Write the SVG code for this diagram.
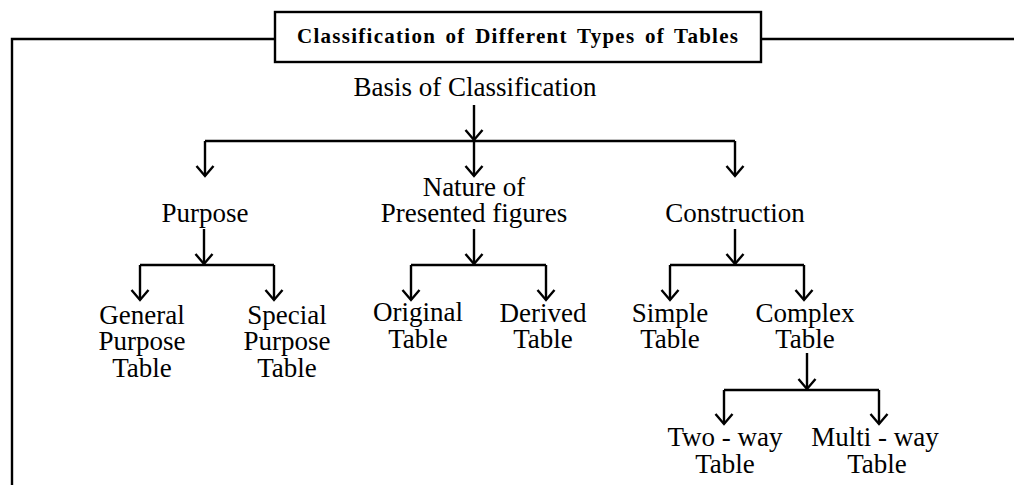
<svg xmlns="http://www.w3.org/2000/svg" width="1014" height="485" viewBox="0 0 1014 485">
<style>
.ln{fill:none;stroke:#000;stroke-width:2.4}
.arr{fill:none;stroke:#000;stroke-width:2.4;marker-end:url(#ah)}
.t{font-family:"Liberation Serif",serif;font-size:27px;fill:#000;text-anchor:middle}
.title{font-family:"Liberation Serif",serif;font-size:21px;font-weight:bold;fill:#000}
</style>
<defs>
<marker id="ah" markerUnits="userSpaceOnUse" viewBox="-12 -12 14 24" refX="0" refY="0" markerWidth="14" markerHeight="24" orient="auto">
<path d="M-10,-8.5 L0,0 L-10,8.5" fill="none" stroke="#000" stroke-width="2.4"/>
</marker>
</defs>
<g id="frame">
<polyline class="ln" points="12,485 12,39 275,39"/>
<line class="ln" x1="761" y1="39" x2="1014" y2="39"/>
</g>
<g id="title">
<rect x="275" y="12" width="486" height="50" fill="#fff" stroke="#000" stroke-width="2.4"/>
<text class="title" x="297" y="43" textLength="441" lengthAdjust="spacing" word-spacing="3">Classification of Different Types of Tables</text>
</g>
<g id="n-basis"><text class="t" x="475" y="96">Basis of Classification</text></g>
<g id="n-purpose"><text class="t" x="205" y="222">Purpose</text></g>
<g id="n-nature"><text class="t" x="474" y="196">Nature of</text><text class="t" x="474" y="222">Presented figures</text></g>
<g id="n-construction"><text class="t" x="735" y="222">Construction</text></g>
<g id="n-general"><text class="t" x="142" y="324">General</text><text class="t" x="142" y="350">Purpose</text><text class="t" x="142" y="377">Table</text></g>
<g id="n-special"><text class="t" x="287" y="324">Special</text><text class="t" x="287" y="350">Purpose</text><text class="t" x="287" y="377">Table</text></g>
<g id="n-original"><text class="t" x="418" y="321">Original</text><text class="t" x="418" y="348">Table</text></g>
<g id="n-derived"><text class="t" x="543" y="322">Derived</text><text class="t" x="543" y="348">Table</text></g>
<g id="n-simple"><text class="t" x="670" y="322">Simple</text><text class="t" x="670" y="348">Table</text></g>
<g id="n-complex"><text class="t" x="805" y="322">Complex</text><text class="t" x="805" y="348">Table</text></g>
<g id="n-twoway"><text class="t" x="725" y="446">Two - way</text><text class="t" x="725" y="473">Table</text></g>
<g id="n-multiway"><text class="t" x="875" y="446">Multi - way</text><text class="t" x="877" y="473">Table</text></g>
<g id="connectors">
<line class="arr" x1="474" y1="105" x2="474" y2="140"/>
<line class="ln" x1="205" y1="141" x2="735" y2="141"/>
<line class="arr" x1="205" y1="141" x2="205" y2="176"/>
<line class="arr" x1="474" y1="141" x2="474" y2="176"/>
<line class="arr" x1="735" y1="141" x2="735" y2="176"/>
<line class="arr" x1="204" y1="229" x2="204" y2="264"/>
<line class="ln" x1="140" y1="265" x2="274" y2="265"/>
<line class="arr" x1="140" y1="265" x2="140" y2="300"/>
<line class="arr" x1="274" y1="265" x2="274" y2="300"/>
<line class="arr" x1="474" y1="229" x2="474" y2="264"/>
<line class="ln" x1="411" y1="265" x2="546" y2="265"/>
<line class="arr" x1="411" y1="265" x2="411" y2="300"/>
<line class="arr" x1="546" y1="265" x2="546" y2="300"/>
<line class="arr" x1="735" y1="229" x2="735" y2="264"/>
<line class="ln" x1="670" y1="265" x2="804" y2="265"/>
<line class="arr" x1="670" y1="265" x2="670" y2="300"/>
<line class="arr" x1="804" y1="265" x2="804" y2="300"/>
<line class="arr" x1="807" y1="353" x2="807" y2="389"/>
<line class="ln" x1="724" y1="390" x2="879" y2="390"/>
<line class="arr" x1="724" y1="390" x2="724" y2="424"/>
<line class="arr" x1="879" y1="390" x2="879" y2="424"/>
</g>
</svg>
